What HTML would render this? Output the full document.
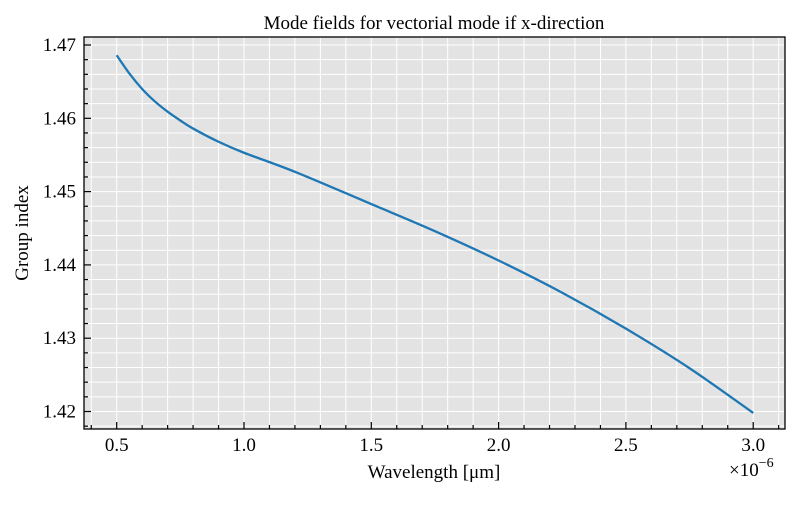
<!DOCTYPE html>
<html><head><meta charset="utf-8"><style>
body{margin:0;background:#fff}
svg text{font-family:"Liberation Serif",serif;fill:#000}
</style></head><body>
<svg width="800" height="500" viewBox="0 0 800 500">
<rect x="84" y="37" width="701" height="392" fill="#e3e3e3"/>
<g id="grid"></g>
<path id="line" fill="none" stroke="#1f77b4" stroke-width="2.3"/>
<rect x="84" y="37" width="701" height="392" fill="none" stroke="#000" stroke-width="1.3"/>
<g id="ticks"></g>
<text x="434" y="29" font-size="19" text-anchor="middle">Mode fields for vectorial mode if x-direction</text>
<text x="434" y="478" font-size="19" text-anchor="middle">Wavelength [μm]</text>
<text transform="translate(28,233) rotate(-90)" font-size="19" text-anchor="middle">Group index</text>
<text x="729" y="476" font-size="19">×10<tspan dy="-9" font-size="14">−6</tspan></text>
</svg>
<script>
const wavelengths=[0.5,0.55,0.6,0.65,0.7,0.75,0.8,0.9,1.0,1.2,1.5,1.75,2.0,2.25,2.5,2.75,3.0];
const groupIndex=[1.4686,1.4661,1.4640,1.4623,1.4609,1.4597,1.4586,1.4568,1.4553,1.4527,1.4483,1.4446,1.4406,1.4362,1.4313,1.4259,1.4198];
const xTicks=["0.5","1.0","1.5","2.0","2.5","3.0"];
const yTicks=["1.42","1.43","1.44","1.45","1.46","1.47"];
const X0=84,X1=785,Y0=37,Y1=429;
const xs=v=>116.7+(v-0.5)*254.6;
const ys=v=>45+(1.47-v)*7330;
const NS="http://www.w3.org/2000/svg";
const grid=document.getElementById('grid'),ticks=document.getElementById('ticks');
function ln(p,x1,y1,x2,y2,c,w){const l=document.createElementNS(NS,'line');l.setAttribute('x1',x1);l.setAttribute('y1',y1);l.setAttribute('x2',x2);l.setAttribute('y2',y2);l.setAttribute('stroke',c);l.setAttribute('stroke-width',w);p.appendChild(l);return l;}
for(let i=4;i<=31;i++){const v=i/10,x=xs(v);if(x<X0||x>X1)continue;
const g=ln(grid,x,Y0,x,Y1,'#fff',1);


const L=(i%5===0)?7:4;ln(ticks,x,Y1,x,Y1-L,'#000',1.2);}
for(let i=709;i<=736;i++){const v=i/500,y=ys(v);if(y<Y0||y>Y1)continue;
const g=ln(grid,X0,y,X1,y,'#fff',1);


const L=(i%5===0)?7:4;ln(ticks,X0,y,X0+L,y,'#000',1.2);}
xTicks.forEach(t=>{const e=document.createElementNS(NS,'text');e.setAttribute('x',xs(+t));e.setAttribute('y',451);e.setAttribute('font-size','19');e.setAttribute('text-anchor','middle');e.textContent=t;


ticks.appendChild(e);});
yTicks.forEach(t=>{const e=document.createElementNS(NS,'text');e.setAttribute('x',76);e.setAttribute('y',ys(+t)+6);e.setAttribute('font-size','19');e.setAttribute('text-anchor','end');e.textContent=t;


ticks.appendChild(e);});
const P=wavelengths.map((w,i)=>[xs(w),ys(groupIndex[i])]);
let d='M'+P[0][0]+','+P[0][1];
for(let i=0;i<P.length-1;i++){const p0=P[i-1]||P[i],p1=P[i],p2=P[i+1],p3=P[i+2]||p2;
d+=` C${p1[0]+(p2[0]-p0[0])/6},${p1[1]+(p2[1]-p0[1])/6} ${p2[0]-(p3[0]-p1[0])/6},${p2[1]-(p3[1]-p1[1])/6} ${p2[0]},${p2[1]}`;}
document.getElementById('line').setAttribute('d',d);
</script>
</body></html>
